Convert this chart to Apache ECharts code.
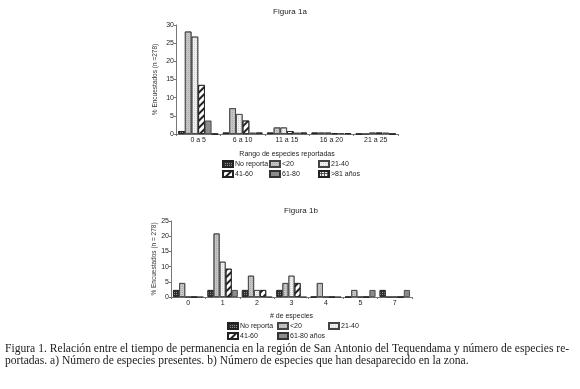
<!DOCTYPE html>
<html>
<head>
<meta charset="utf-8">
<script src="https://cdn.jsdelivr.net/npm/echarts@6/dist/echarts.min.js"></script>
<style>
  html, body { margin: 0; padding: 0; background: #fff; }
  #chart { width: 580px; height: 389px; }
</style>
</head>
<body>
<div id="chart"></div>
<script>
// Figura 1a - rango de especies reportadas
var catsA = ['0 a 5', '6 a 10', '11 a 15', '16 a 20', '21 a 25']
var noReportaA = [0.8, 0.4, 0.4, 0.4, 0]
var menos20A = [28.2, 7.1, 1.8, 0.4, 0]
var de21a40A = [26.8, 5.5, 1.8, 0.4, 0.4]
var de41a60A = [13.5, 3.7, 0.8, 0.2, 0.4]
var de61a80A = [3.7, 0.4, 0.4, 0.2, 0.4]
var mas81A = [0, 0.4, 0.4, 0.2, 0]

// Figura 1b - especies desaparecidas
var catsB = ['0', '1', '2', '3', '4', '5', '7']
var noReportaB = [2.3, 2.3, 2.3, 2.3, 0, 0, 2.3]
var menos20B = [4.6, 20.9, 7.0, 4.6, 4.6, 2.3, 0]
var de21a40B = [0, 11.6, 2.3, 7.0, 0, 0, 0]
var de41a60B = [0, 9.3, 2.3, 4.6, 0, 0, 0]
var de61a80B = [0, 2.3, 0, 0, 0, 2.3, 2.3]

var font = 'Liberation Sans, Arial, sans-serif'

// estilos de relleno (tramas)
var styles = {
  nr: { color: '#2e2e2e', borderColor: '#222', borderWidth: 0.8,
    decal: { symbol: 'rect', symbolSize: 1, color: 'rgba(255,255,255,0.45)', dashArrayX: [1, 1], dashArrayY: [1, 1] } },
  m20: { color: '#c6c6c6', borderColor: '#444', borderWidth: 0.8,
    decal: { symbol: 'rect', symbolSize: 1, color: 'rgba(110,110,110,0.3)', dashArrayX: [1, 1], dashArrayY: [1, 1] } },
  d21: { color: '#f0f0f0', borderColor: '#444', borderWidth: 0.8,
    decal: { symbol: 'rect', symbolSize: 1, color: 'rgba(160,160,160,0.35)', dashArrayX: [1, 1], dashArrayY: [1, 1] } },
  d41: { color: '#fff', borderColor: '#222', borderWidth: 0.8,
    decal: { symbol: 'rect', symbolSize: 1, color: '#222', dashArrayX: [1, 0], dashArrayY: [1.5, 3], rotation: -Math.PI / 4 } },
  d61: { color: '#8c8c8c', borderColor: '#333', borderWidth: 0.8 },
  m81: { color: '#555', borderColor: '#222', borderWidth: 0.8,
    decal: { symbol: 'rect', symbolSize: 1, color: '#eee', dashArrayX: [2, 1], dashArrayY: [2, 1] } }
}

function bar (name, data, style, idx) {
  return {
    name: name,
    type: 'bar',
    xAxisIndex: idx,
    yAxisIndex: idx,
    data: data,
    itemStyle: style,
    barGap: '0%',
    barCategoryGap: idx === 0 ? '10%' : '12%',
    emphasis: { disabled: true }
  }
}

function legendCol (names, left, top) {
  return {
    orient: 'vertical',
    left: left,
    top: top,
    data: names,
    itemWidth: 10,
    itemHeight: 6,
    itemGap: 2,
    padding: 0,
    icon: 'rect',
    textStyle: { fontFamily: font, fontSize: 7, color: '#222', padding: [0, 0, 0, -3] },
    selectedMode: false
  }
}

var axisLineStyle = { lineStyle: { color: '#777', width: 1 } }

var myChart = echarts.init(document.getElementById('chart'))
var option = {
  animation: false,
  title: [
    { text: 'Figura 1a', left: 285, top: 3, textAlign: 'center',
      textStyle: { fontFamily: font, fontSize: 8, fontWeight: 'normal', color: '#222' } },
    { text: 'Figura 1b', left: 296, top: 202, textAlign: 'center',
      textStyle: { fontFamily: font, fontSize: 8, fontWeight: 'normal', color: '#222' } }
  ],
  legend: [
    legendCol(['No reporta', '41-60'], 222, 160),
    legendCol(['<20', '61-80'], 269, 160),
    legendCol(['21-40', '>81 años'], 318, 160),
    legendCol(['No reporta ', '41-60 '], 227, 322),
    legendCol(['<20 ', '61-80 años'], 277, 322),
    legendCol(['21-40 '], 328, 322)
  ],
  grid: [
    { left: 176, top: 25, width: 222, height: 109 },
    { left: 171, top: 221, width: 241, height: 76 }
  ],
  xAxis: [
    {
      gridIndex: 0, type: 'category', data: catsA,
      name: 'Rango de especies reportadas', nameLocation: 'middle', nameGap: 17,
      nameTextStyle: { fontFamily: font, fontSize: 7, color: '#222' },
      axisLine: axisLineStyle,
      axisTick: { show: true, length: 2, lineStyle: { color: '#777' } },
      axisLabel: { fontFamily: font, fontSize: 7, color: '#222', margin: 3 }
    },
    {
      gridIndex: 1, type: 'category', data: catsB,
      name: '# de especies', nameLocation: 'middle', nameGap: 16,
      nameTextStyle: { fontFamily: font, fontSize: 7, color: '#222' },
      axisLine: axisLineStyle,
      axisTick: { show: true, length: 2, lineStyle: { color: '#777' } },
      axisLabel: { fontFamily: font, fontSize: 7, color: '#222', margin: 3 }
    }
  ],
  yAxis: [
    {
      gridIndex: 0, type: 'value', min: 0, max: 30, interval: 5,
      name: '% Encuestados (n =278)', nameLocation: 'middle', nameGap: 17, nameRotate: 90,
      nameTextStyle: { fontFamily: font, fontSize: 6.5, color: '#333' },
      axisLine: { show: true, lineStyle: { color: '#777' } },
      axisTick: { show: true, length: 2, lineStyle: { color: '#777' } },
      splitLine: { show: false },
      axisLabel: { fontFamily: font, fontSize: 7, color: '#222', margin: 2 }
    },
    {
      gridIndex: 1, type: 'value', min: 0, max: 25, interval: 5,
      name: '% Encuestados (n = 278)', nameLocation: 'middle', nameGap: 13, nameRotate: 90,
      nameTextStyle: { fontFamily: font, fontSize: 6.5, color: '#333' },
      axisLine: { show: true, lineStyle: { color: '#777' } },
      axisTick: { show: true, length: 2, lineStyle: { color: '#777' } },
      splitLine: { show: false },
      axisLabel: { fontFamily: font, fontSize: 7, color: '#222', margin: 2 }
    }
  ],
  series: [
    bar('No reporta', noReportaA, styles.nr, 0),
    bar('<20', menos20A, styles.m20, 0),
    bar('21-40', de21a40A, styles.d21, 0),
    bar('41-60', de41a60A, styles.d41, 0),
    bar('61-80', de61a80A, styles.d61, 0),
    bar('>81 años', mas81A, styles.m81, 0),
    bar('No reporta ', noReportaB, styles.nr, 1),
    bar('<20 ', menos20B, styles.m20, 1),
    bar('21-40 ', de21a40B, styles.d21, 1),
    bar('41-60 ', de41a60B, styles.d41, 1),
    bar('61-80 años', de61a80B, styles.d61, 1)
  ],
  graphic: [
    { type: 'text', left: 5, top: 343,
      style: { text: 'Figura 1. Relación entre el tiempo de permanencia en la región de San Antonio del Tequendama y número de especies re-',
        font: '11.6px "Liberation Serif", serif', fill: '#222' } },
    { type: 'text', left: 5, top: 355,
      style: { text: 'portadas. a) Número de especies presentes. b) Número de especies que han desaparecido en la zona.',
        font: '11.6px "Liberation Serif", serif', fill: '#222' } }
  ]
}
myChart.setOption(option)
</script>
</body>
</html>
